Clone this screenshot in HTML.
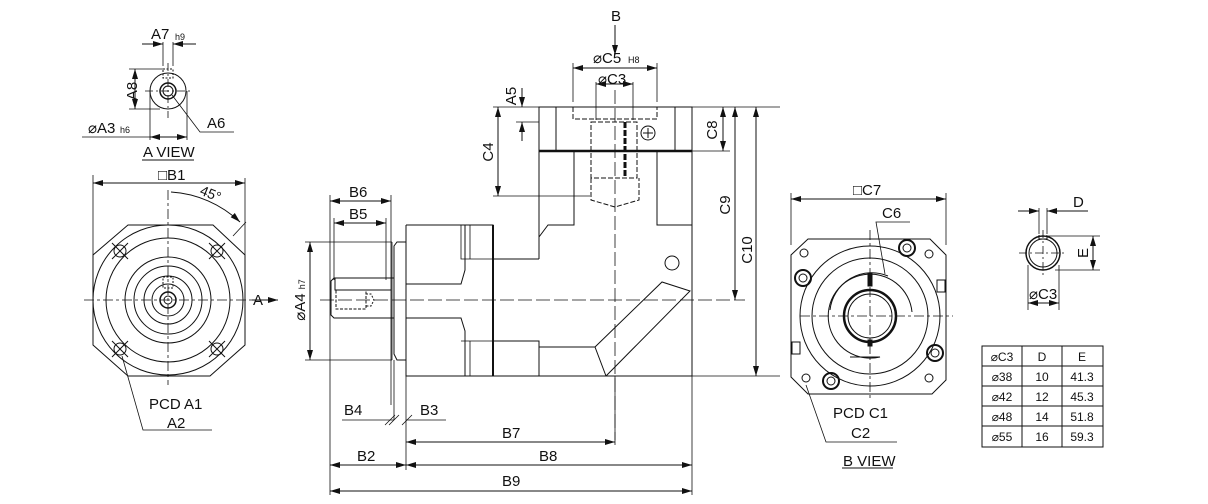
<!DOCTYPE html>
<html><head><meta charset="utf-8"><style>
html,body{margin:0;padding:0;background:#fff;}
svg{display:block;font-family:"Liberation Sans",Arial,sans-serif;}
text{fill:#111;}
</style></head><body>
<svg width="1208" height="504" viewBox="0 0 1208 504" xmlns="http://www.w3.org/2000/svg">
<defs>
<marker id="a" viewBox="0 0 10 6" refX="10" refY="3" markerWidth="10" markerHeight="6" orient="auto-start-reverse" markerUnits="userSpaceOnUse"><path d="M0,0L10,3L0,6z" fill="#111"/></marker>
</defs>
<g stroke="#111" stroke-width="1" fill="none">
<!-- ===== A VIEW ===== -->
<circle cx="168" cy="91" r="18"/>
<circle cx="168" cy="91" r="8" stroke-width="1.5"/>
<circle cx="168" cy="91" r="5"/>
<rect x="163" y="69" width="10" height="9" stroke-dasharray="2,1.5"/>
<path d="M145 91H190M168 63V118" stroke-dasharray="8,3,2,3" stroke-width="0.8"/>
<path d="M163 42V66M173 42V66" stroke-width="0.8"/>
<path d="M142 44H163" marker-end="url(#a)"/><path d="M196 44H173" marker-end="url(#a)"/>
<path d="M129 69H164M129 109H160" stroke-width="0.8"/>
<path d="M135 69V109" marker-start="url(#a)" marker-end="url(#a)"/>
<path d="M150 91V140M187 91V140" stroke-width="0.8"/>
<path d="M82 137H234" stroke-width="0"/>
<path d="M82 137H150M150 137H187" stroke-width="0.8"/>
<path d="M150 137H187" marker-start="url(#a)" marker-end="url(#a)"/>
<path d="M172 95L200 132H234" stroke-width="0.8"/>
<path d="M142 160H194" stroke-width="1"/>
<!-- ===== Left flange view ===== -->
<path d="M128 225H213L245 255V345L210 376H128L93 345V255Z"/>
<circle cx="168" cy="300" r="75"/>
<circle cx="168" cy="300" r="62"/>
<circle cx="168" cy="300" r="43"/>
<circle cx="168" cy="300" r="34"/>
<circle cx="168" cy="300" r="24"/>
<circle cx="168" cy="300" r="16"/>
<circle cx="168" cy="300" r="8" stroke-width="1.5"/>
<circle cx="168" cy="300" r="4"/>
<rect x="163" y="277" width="10" height="11" stroke-dasharray="2,1.5"/>
<g stroke-width="1">
<circle cx="120" cy="251" r="6"/><path d="M112 243L128 259M128 243L112 259"/>
<circle cx="217" cy="251" r="6"/><path d="M209 243L225 259M225 243L209 259"/>
<circle cx="120" cy="349" r="6"/><path d="M112 341L128 357M128 341L112 357"/>
<circle cx="217" cy="349" r="6"/><path d="M209 341L225 357M225 341L209 357"/>
</g>
<path d="M84 300H252M168 190V385" stroke-dasharray="10,3,3,3" stroke-width="0.8"/>
<path d="M93 175V262M245 178V262" stroke-width="0.8"/>
<path d="M93 183H245" marker-start="url(#a)" marker-end="url(#a)"/>
<path d="M171 192A110 110 0 0 1 240 222" marker-end="url(#a)"/>
<path d="M233 236L246 222" stroke-width="0.8"/>
<path d="M122 356L143 430H212" stroke-width="0.8"/>
<path d="M252 300H278" marker-end="url(#a)"/>
<!-- ===== Middle side view ===== -->
<!-- top flange -->
<rect x="539" y="107" width="153" height="44"/>
<path d="M556 107V151M675 107V151"/>
<path d="M539 151H692" stroke-width="2.5"/>
<path d="M573 107V119H657V107" stroke-dasharray="5,2"/>
<rect x="591" y="122" width="46" height="56" stroke-dasharray="5,2"/>
<path d="M591 178V200L615 207L639 200V178" stroke-dasharray="5,2"/>
<path d="M625 122V178" stroke-width="3" stroke-dasharray="6,2"/>
<circle cx="648" cy="133" r="7"/><path d="M643 133H653M648 128V138"/>
<!-- vertical body -->
<path d="M539 151V259M574 151V225H548L539 237"/>
<path d="M657 151V225H692V151"/>
<!-- main body -->
<path d="M406 225H493V259H539"/>
<path d="M406 225V376H692V291"/>
<path d="M692 225V291"/>
<path d="M406 284H461L465 270V225M406 318H461L465 331V376"/>
<path d="M461 225V259H493M461 341H493" stroke-width="0.8"/>
<path d="M470 225V259M470 341V376" stroke-width="0.8"/>
<path d="M493 225V376" stroke-width="2"/>
<path d="M493 341H539V376M539 347H595L606 376"/>
<path d="M595 347L662 282L690 291L606 376"/>
<circle cx="672" cy="263" r="7"/>
<!-- output flange -->
<path d="M406 242H397L394 246V354L397 360H406"/>
<path d="M392 242V360" stroke-width="0.8"/>
<!-- shaft -->
<path d="M394 278H334L331 281V315L334 318H394"/>
<path d="M335 278V290H391"/>
<rect x="336" y="290" width="30" height="19" stroke-dasharray="3,1.5"/>
<path d="M366 294H371L374 300L371 306H366" stroke-dasharray="2,1.5"/>
<!-- centerlines -->
<path d="M320 300H742" stroke-dasharray="14,4" stroke-width="0.8"/>
<path d="M615 90V445" stroke-dasharray="14,4" stroke-width="0.8"/>
<!-- dims -->
<path d="M615 25V55" marker-end="url(#a)"/>
<path d="M573 63V102M657 63V102" stroke-width="0.8"/>
<path d="M573 68H657" marker-start="url(#a)" marker-end="url(#a)"/>
<path d="M596 82V120M633 82V120" stroke-width="0.8"/>
<path d="M596 84H633" marker-start="url(#a)" marker-end="url(#a)"/>
<path d="M493 107H539M516 122H539" stroke-width="0.8"/>
<path d="M522 88V107" marker-end="url(#a)"/><path d="M522 141V122" marker-end="url(#a)"/>
<path d="M493 196H590" stroke-width="0.8"/>
<path d="M498 107V196" marker-start="url(#a)" marker-end="url(#a)"/>
<path d="M692 107H780M692 151H730M692 376H780" stroke-width="0.8"/>
<path d="M742 300H745" stroke-width="0.8"/>
<path d="M723 107V151" marker-start="url(#a)" marker-end="url(#a)"/>
<path d="M735 107V300" marker-start="url(#a)" marker-end="url(#a)"/>
<path d="M756 107V376" marker-start="url(#a)" marker-end="url(#a)"/>
<path d="M305 242H392M305 360H392" stroke-width="0.8"/>
<path d="M310 242V360" marker-start="url(#a)" marker-end="url(#a)"/>
<path d="M330 195V495M391 195V405M394 360V420M406 376V470M692 376V495M615 376V440" stroke-width="0.8"/>
<path d="M330 201H391" marker-start="url(#a)" marker-end="url(#a)"/>
<path d="M334 223H386" marker-start="url(#a)" marker-end="url(#a)"/>
<path d="M334 218V280M386 218V280" stroke-width="0.8"/>
<path d="M342 420H394M406 420H446" stroke-width="0.8"/>
<path d="M385 425L395 415M389 425L399 415M402 425L412 415" stroke-width="0.8"/>
<path d="M406 442H615" marker-start="url(#a)" marker-end="url(#a)"/>
<path d="M330 465H406" marker-start="url(#a)" marker-end="url(#a)"/>
<path d="M406 465H692" marker-start="url(#a)" marker-end="url(#a)"/>
<path d="M330 491H692" marker-start="url(#a)" marker-end="url(#a)"/>
<!-- ===== B VIEW ===== -->
<path d="M808 239H930L946 255V380L932 394H808L791 377V255Z"/>
<circle cx="870" cy="316" r="70"/>
<circle cx="870" cy="316" r="58"/>
<path d="M912 312A42 42 0 1 0 880 357L850 357" stroke-width="1"/>
<path d="M830 310A42 42 0 0 1 888 276" />
<circle cx="870" cy="316" r="26" stroke-width="2.5"/>
<circle cx="870" cy="316" r="22"/>
<path d="M800 316H953M870 230V400" stroke-dasharray="10,3,3,3" stroke-width="0.8"/>
<rect x="868" y="273" width="4" height="13" fill="#111"/>
<rect x="868" y="340" width="4" height="6" fill="#111"/>
<g>
<circle cx="803" cy="278" r="8" stroke-width="2"/><circle cx="803" cy="278" r="4"/>
<circle cx="907" cy="248" r="8" stroke-width="2"/><circle cx="907" cy="248" r="4"/>
<circle cx="935" cy="353" r="8" stroke-width="2"/><circle cx="935" cy="353" r="4"/>
<circle cx="831" cy="381" r="8" stroke-width="2"/><circle cx="831" cy="381" r="4"/>
<circle cx="804" cy="253" r="4"/><circle cx="929" cy="254" r="4"/>
<circle cx="806" cy="378" r="4"/><circle cx="929" cy="378" r="4"/>
</g>
<rect x="937" y="280" width="8" height="12"/>
<rect x="792" y="342" width="8" height="12"/>
<path d="M791 193V245M946 193V245" stroke-width="0.8"/>
<path d="M791 199H946" marker-start="url(#a)" marker-end="url(#a)"/>
<path d="M910 222H876L885 274" stroke-width="0.8"/>
<path d="M806 385L826 442H897" stroke-width="0.8"/>
<path d="M842 468H893"/>
<!-- shaft small -->
<circle cx="1043" cy="253" r="17" stroke-width="1.5"/>
<circle cx="1043" cy="253" r="14"/>
<path d="M1039 235V239H1047V235" />
<path d="M1019 253H1067M1043 230V277" stroke-dasharray="8,3,2,3" stroke-width="0.8"/>
<path d="M1039 208V234M1047 208V234" stroke-width="0.8"/>
<path d="M1018 211H1039" marker-end="url(#a)"/><path d="M1088 211H1047" marker-end="url(#a)"/>
<path d="M1048 236H1100M1055 270H1100" stroke-width="0.8"/>
<path d="M1093 236V270" marker-start="url(#a)" marker-end="url(#a)"/>
<path d="M1028 265V310M1059 265V310" stroke-width="0.8"/>
<path d="M1028 303H1059" marker-start="url(#a)" marker-end="url(#a)"/>
<!-- table -->
<rect x="982" y="346" width="121" height="101"/>
<path d="M982 366H1103M982 386H1103M982 406H1103M982 426H1103M1022 346V447M1062 346V447"/>
</g>
<g font-size="15">
<text x="151" y="39">A7</text><text x="175" y="40" font-size="9">h9</text>
<text x="130" y="98" transform="rotate(-90 130 91)" text-anchor="middle">A8</text>
<text x="88" y="133" font-size="15">⌀A3</text><text x="120" y="133" font-size="9">h6</text>
<text x="207" y="128">A6</text>
<text x="143" y="157">A VIEW</text>
<text x="158" y="180">□B1</text>
<text x="200" y="199" font-size="14" transform="rotate(22 212 194)">45°</text>
<text x="253" y="305">A</text>
<text x="149" y="409">PCD A1</text>
<text x="167" y="428">A2</text>
<text x="611" y="21">B</text>
<text x="593" y="63">⌀C5</text><text x="628" y="63" font-size="9">H8</text>
<text x="598" y="84">⌀C3</text>
<text x="516" y="96" transform="rotate(-90 516 96)" text-anchor="middle">A5</text>
<text x="493" y="152" transform="rotate(-90 493 152)" text-anchor="middle">C4</text>
<text x="717" y="130" transform="rotate(-90 717 130)" text-anchor="middle">C8</text>
<text x="730" y="205" transform="rotate(-90 730 205)" text-anchor="middle">C9</text>
<text x="752" y="250" transform="rotate(-90 752 250)" text-anchor="middle">C10</text>
<text x="305" y="300" transform="rotate(-90 305 300)" text-anchor="middle">⌀A4 <tspan font-size="9">h7</tspan></text>
<text x="349" y="197">B6</text>
<text x="349" y="219">B5</text>
<text x="344" y="415">B4</text>
<text x="420" y="415">B3</text>
<text x="502" y="438">B7</text>
<text x="539" y="461">B8</text>
<text x="357" y="461">B2</text>
<text x="502" y="486">B9</text>
<text x="853" y="195">□C7</text>
<text x="882" y="218">C6</text>
<text x="833" y="418">PCD C1</text>
<text x="851" y="438">C2</text>
<text x="843" y="466">B VIEW</text>
<text x="1073" y="207">D</text>
<text x="1088" y="253" transform="rotate(-90 1088 253)" text-anchor="middle">E</text>
<text x="1029" y="299">⌀C3</text>
</g>
<g font-size="12" text-anchor="middle">
<text x="1002" y="361">⌀C3</text><text x="1042" y="361">D</text><text x="1082" y="361">E</text>
<text x="1002" y="381">⌀38</text><text x="1042" y="381">10</text><text x="1082" y="381">41.3</text>
<text x="1002" y="401">⌀42</text><text x="1042" y="401">12</text><text x="1082" y="401">45.3</text>
<text x="1002" y="421">⌀48</text><text x="1042" y="421">14</text><text x="1082" y="421">51.8</text>
<text x="1002" y="441">⌀55</text><text x="1042" y="441">16</text><text x="1082" y="441">59.3</text>
</g>
</svg>
</body></html>
